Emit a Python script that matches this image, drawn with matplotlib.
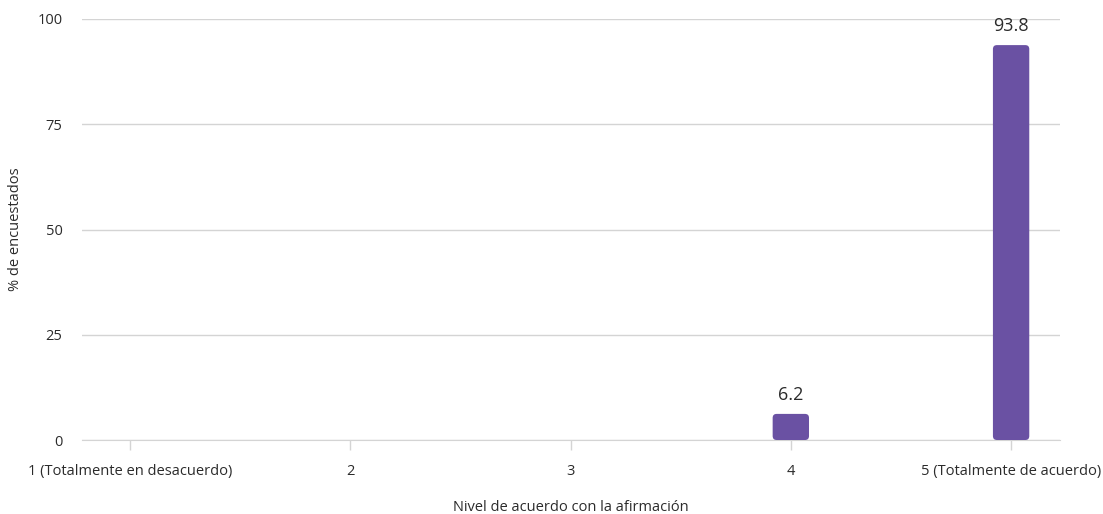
import matplotlib
matplotlib.use('Agg')
import matplotlib.pyplot as plt
from matplotlib.patches import FancyBboxPatch

plt.rcParams['font.family'] = ['Open Sans', 'DejaVu Sans']

categorias = ['1 (Totalmente en desacuerdo)', '2', '3', '4', '5 (Totalmente de acuerdo)']
valores = [0, 0, 0, 6.2, 93.8]
etiquetas = ['', '', '', '6.2', '93.8']

color_barra = '#6a51a3'
color_texto = '#2b2b2b'

fig = plt.figure(figsize=(11.03, 5.14), dpi=100)
ax = fig.add_axes([82 / 1103, 1 - 440 / 514, (1060 - 82) / 1103, 421 / 514])
ax.set_xlim(-0.218, 4.222)
ax.set_ylim(0, 100)

ancho = 0.165
# relacion de aspecto para esquinas redondeadas
aspecto = (1 / 4.21) / (1 / 220.25)
for i, v in enumerate(valores):
    if v <= 0:
        continue
    p = FancyBboxPatch((i - ancho / 2, 0), ancho, v,
                       boxstyle='round,pad=0,rounding_size=0.018',
                       mutation_aspect=aspecto, facecolor=color_barra,
                       edgecolor='none', zorder=3)
    ax.add_patch(p)
    ax.text(i, v + 2.3, etiquetas[i], ha='center', va='bottom',
            fontsize=13, color=color_texto, fontweight='medium')

ax.set_yticks([0, 25, 50, 75, 100])
ax.set_xticks(range(len(categorias)))
ax.set_xticklabels(categorias)
ax.grid(axis='y', color='#d4d4d4', linewidth=1)
ax.set_axisbelow(True)
for s in ['top', 'right', 'left']:
    ax.spines[s].set_visible(False)
ax.spines['bottom'].set_color('#d4d4d4')
ax.tick_params(axis='y', length=0, pad=14, labelsize=10.5, labelcolor=color_texto)
ax.tick_params(axis='x', length=7, width=1, color='#d4d4d4', pad=10,
               labelsize=10.5, labelcolor=color_texto)

ax.set_xlabel('Nivel de acuerdo con la afirmación', fontsize=10.5,
              color=color_texto, va='center')
ax.xaxis.set_label_coords(0.5, -0.1615)
ax.set_ylabel('% de encuestados', fontsize=10.5, color=color_texto, va='center')
ax.yaxis.set_label_coords(-0.0675, 0.5)

plt.savefig('out.png', dpi=100)
